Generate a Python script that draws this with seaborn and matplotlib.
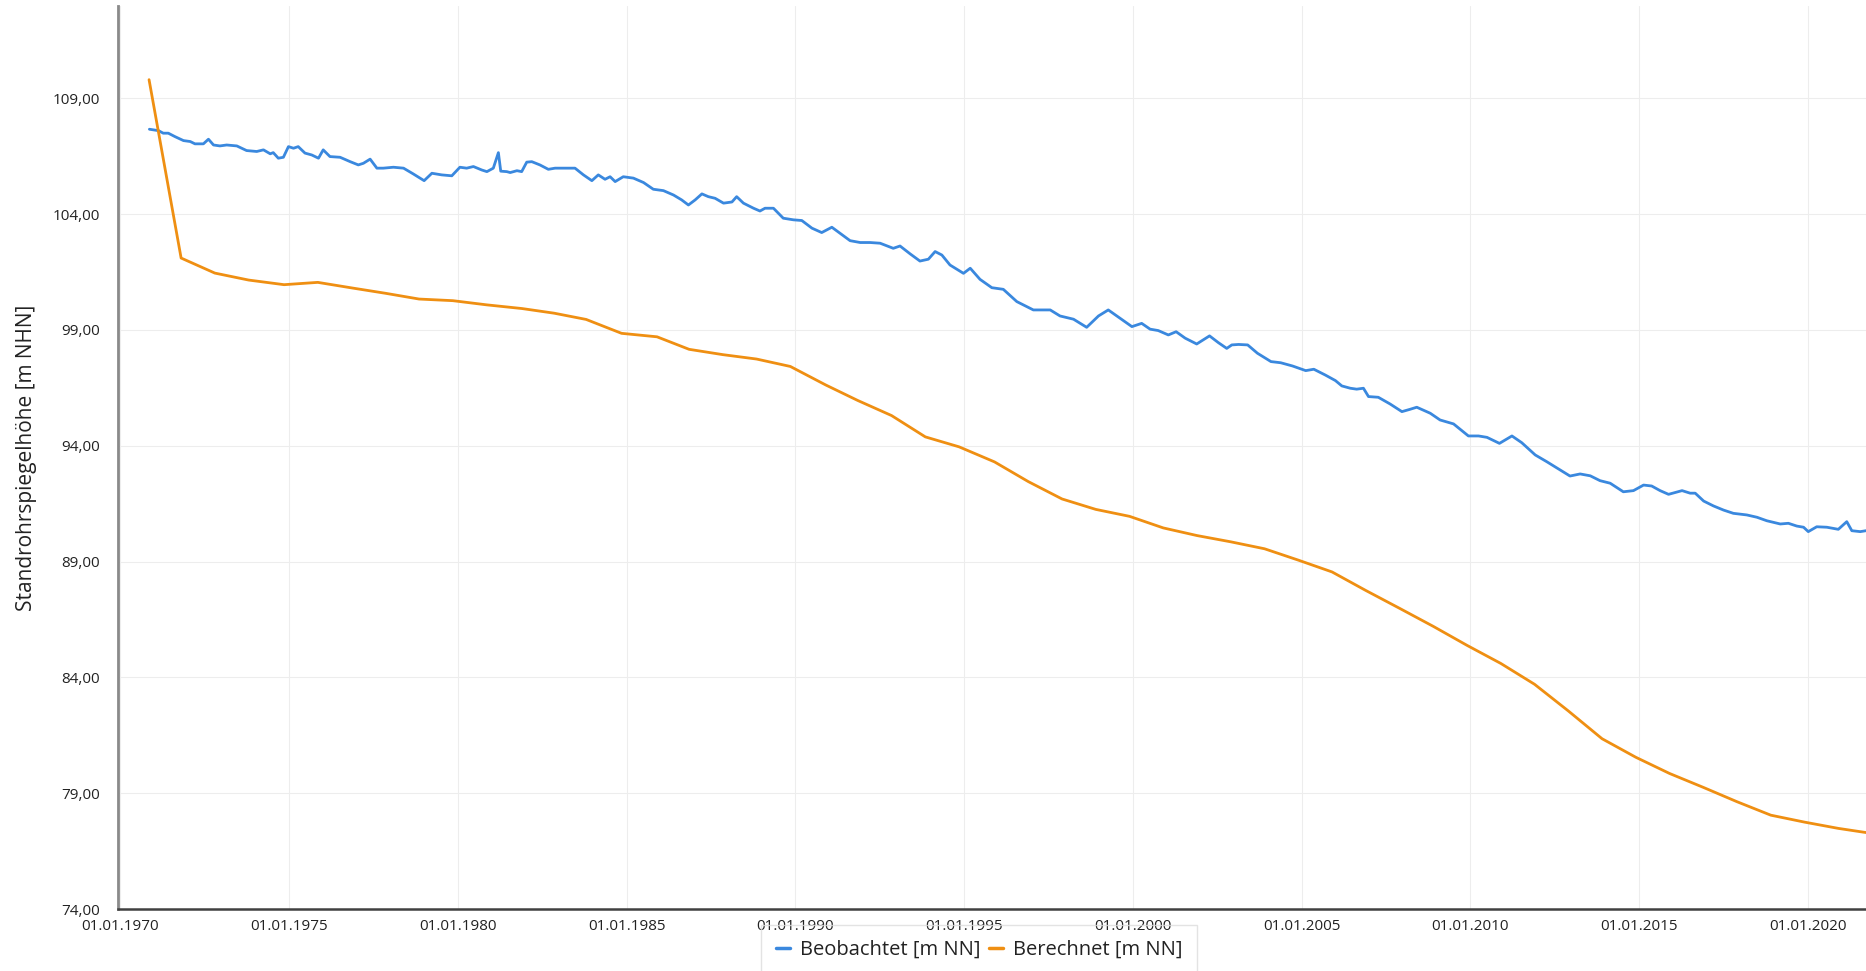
import matplotlib
matplotlib.use("Agg")
import matplotlib.pyplot as plt
import numpy as np
import pandas as pd
import seaborn as sns

# ---------------- data ----------------
obs_year = [1970.86, 1971.13, 1971.27, 1971.42, 1971.62, 1971.87, 1972.07, 1972.21, 1972.46, 1972.61,
            1972.76, 1972.95, 1973.15, 1973.45, 1973.74, 1974.04, 1974.24, 1974.44, 1974.53, 1974.68,
            1974.83, 1974.98, 1975.13, 1975.27, 1975.47, 1975.67, 1975.87, 1976.01, 1976.21, 1976.51,
            1976.81, 1977.05, 1977.20, 1977.40, 1977.60, 1977.79, 1978.09, 1978.39, 1978.68, 1979.00,
            1979.23, 1979.52, 1979.82, 1980.06, 1980.26, 1980.46, 1980.71, 1980.86, 1981.05, 1981.20,
            1981.27, 1981.45, 1981.55, 1981.75, 1981.89, 1982.04, 1982.19, 1982.43, 1982.68, 1982.88,
            1983.13, 1983.47, 1983.72, 1983.97, 1984.16, 1984.36, 1984.51, 1984.66, 1984.90, 1985.20,
            1985.50, 1985.79, 1986.09, 1986.39, 1986.63, 1986.83, 1987.03, 1987.23, 1987.42, 1987.62,
            1987.87, 1988.12, 1988.26, 1988.46, 1988.76, 1988.95, 1989.10, 1989.35, 1989.64, 1989.94,
            1990.19, 1990.49, 1990.78, 1991.08, 1991.32, 1991.62, 1991.92, 1992.21, 1992.51, 1992.90,
            1993.10, 1993.40, 1993.69, 1993.94, 1994.14, 1994.34, 1994.58, 1994.98, 1995.18, 1995.47,
            1995.82, 1996.16, 1996.56, 1997.05, 1997.55, 1997.84, 1998.24, 1998.63, 1998.98, 1999.27,
            1999.62, 1999.97, 2000.26, 2000.51, 2000.75, 2001.05, 2001.28, 2001.55, 2001.89, 2002.27,
            2002.53, 2002.78, 2002.93, 2003.13, 2003.40, 2003.69, 2004.09, 2004.38, 2004.73, 2005.12,
            2005.36, 2005.70, 2006.00, 2006.19, 2006.44, 2006.63, 2006.83, 2006.98, 2007.27, 2007.62,
            2007.97, 2008.21, 2008.41, 2008.81, 2009.10, 2009.50, 2009.94, 2010.24, 2010.49, 2010.86,
            2011.23, 2011.52, 2011.92, 2012.26, 2012.66, 2012.95, 2013.25, 2013.55, 2013.84, 2014.14,
            2014.53, 2014.83, 2015.13, 2015.37, 2015.62, 2015.87, 2016.27, 2016.51, 2016.66, 2016.91,
            2017.20, 2017.50, 2017.79, 2018.19, 2018.49, 2018.78, 2019.18, 2019.42, 2019.67, 2019.87,
            2020.01, 2020.26, 2020.56, 2020.90, 2021.15, 2021.30, 2021.55, 2021.72]
obs_level = [107.66, 107.60, 107.49, 107.49, 107.34, 107.17, 107.13, 107.03, 107.03, 107.23,
             106.98, 106.94, 106.98, 106.94, 106.74, 106.70, 106.77, 106.60, 106.65, 106.41,
             106.45, 106.91, 106.84, 106.91, 106.63, 106.55, 106.41, 106.77, 106.48, 106.45,
             106.26, 106.12, 106.19, 106.37, 105.98, 105.98, 106.02, 105.98, 105.73, 105.44,
             105.76, 105.69, 105.65, 106.02, 105.98, 106.05, 105.90, 105.83, 105.98, 106.65,
             105.85, 105.83, 105.79, 105.87, 105.83, 106.24, 106.26, 106.12, 105.93, 105.98,
             105.98, 105.98, 105.69, 105.44, 105.69, 105.50, 105.61, 105.40, 105.61, 105.55,
             105.36, 105.07, 105.01, 104.82, 104.61, 104.39, 104.61, 104.87, 104.75, 104.68,
             104.47, 104.52, 104.75, 104.47, 104.25, 104.13, 104.25, 104.25, 103.82, 103.75,
             103.72, 103.39, 103.20, 103.43, 103.17, 102.85, 102.77, 102.77, 102.74, 102.52,
             102.62, 102.28, 101.97, 102.05, 102.38, 102.23, 101.80, 101.44, 101.66, 101.18,
             100.82, 100.75, 100.22, 99.86, 99.86, 99.60, 99.46, 99.11, 99.60, 99.86,
             99.50, 99.14, 99.28, 99.03, 98.97, 98.78, 98.92, 98.64, 98.39, 98.74,
             98.45, 98.20, 98.35, 98.37, 98.35, 97.99, 97.63, 97.58, 97.44, 97.24,
             97.30, 97.05, 96.81, 96.58, 96.48, 96.44, 96.48, 96.12, 96.09, 95.80,
             95.47, 95.57, 95.66, 95.40, 95.11, 94.94, 94.42, 94.42, 94.36, 94.10,
             94.42, 94.13, 93.60, 93.31, 92.95, 92.69, 92.78, 92.70, 92.49, 92.38,
             92.01, 92.06, 92.30, 92.26, 92.06, 91.90, 92.06, 91.95, 91.95, 91.61,
             91.40, 91.22, 91.08, 91.01, 90.91, 90.76, 90.62, 90.65, 90.53, 90.48,
             90.29, 90.50, 90.48, 90.39, 90.72, 90.33, 90.29, 90.33]

calc_year = [1970.85, 1971.80, 1972.80, 1973.80, 1974.85, 1975.85, 1976.90, 1977.85, 1978.85, 1979.85,
             1980.85, 1981.90, 1982.85, 1983.80, 1984.85, 1985.90, 1986.85, 1987.85, 1988.85, 1989.85,
             1990.90, 1991.85, 1992.85, 1993.85, 1994.85, 1995.90, 1996.90, 1997.90, 1998.90, 1999.90,
             2000.90, 2001.90, 2002.90, 2003.90, 2004.90, 2005.90, 2006.90, 2007.90, 2008.90, 2009.90,
             2010.90, 2011.90, 2012.90, 2013.90, 2014.90, 2015.90, 2016.90, 2017.90, 2018.90, 2019.90,
             2020.90, 2021.72]
calc_level = [109.80, 102.10, 101.45, 101.15, 100.95, 101.05, 100.80, 100.58, 100.33, 100.26,
              100.08, 99.92, 99.72, 99.45, 98.85, 98.70, 98.16, 97.93, 97.74, 97.42,
              96.62, 95.95, 95.30, 94.38, 93.95, 93.30, 92.45, 91.70, 91.25, 90.95,
              90.45, 90.12, 89.85, 89.55, 89.06, 88.55, 87.75, 86.98, 86.20, 85.38,
              84.60, 83.70, 82.55, 81.35, 80.55, 79.85, 79.25, 78.63, 78.05, 77.75,
              77.48, 77.30]

series_names = ["Beobachtet [m NN]", "Berechnet [m NN]"]
series_colors = ["#3a88de", "#ef8f12"]

x_ticks = [1970, 1975, 1980, 1985, 1990, 1995, 2000, 2005, 2010, 2015, 2020]
x_tick_labels = ["01.01.1970", "01.01.1975", "01.01.1980", "01.01.1985", "01.01.1990",
                 "01.01.1995", "01.01.2000", "01.01.2005", "01.01.2010", "01.01.2015",
                 "01.01.2020"]
y_ticks = [74, 79, 84, 89, 94, 99, 104, 109]
y_tick_labels = ["74,00", "79,00", "84,00", "89,00", "94,00", "99,00", "104,00", "109,00"]
y_label = "Standrohrspiegelhöhe [m NHN]"

# ---------------- frame ----------------
df = pd.concat([
    pd.DataFrame({"year": obs_year, "level": obs_level, "series": series_names[0]}),
    pd.DataFrame({"year": calc_year, "level": calc_level, "series": series_names[1]}),
], ignore_index=True)

sns.set_theme(style="white")
plt.rcParams["font.family"] = ["Open Sans", "DejaVu Sans"]

W, H = 1866, 971
fig = plt.figure(figsize=(W / 100, H / 100), dpi=100)
ax = fig.add_axes([118 / W, (H - 909) / H, 1 - 118 / W, (909 - 6) / H])

sns.lineplot(data=df, x="year", y="level", hue="series", hue_order=series_names,
             palette=dict(zip(series_names, series_colors)), estimator=None,
             linewidth=2.0, ax=ax)

ax.set_xlim(1969.93, 2021.72)
ax.set_ylim(74, 112.98)
ax.set_xticks(x_ticks)
ax.set_xticklabels(x_tick_labels)
ax.set_yticks(y_ticks)
ax.set_yticklabels(y_tick_labels)
ax.tick_params(axis="both", length=0, labelsize=11, colors="#222222")
ax.tick_params(axis="y", pad=13)
ax.tick_params(axis="x", pad=7.5)

ax.grid(True, color="#ededed", linewidth=0.8)
ax.set_axisbelow(True)
for s in ("top", "right"):
    ax.spines[s].set_visible(False)
ax.spines["left"].set_color("#8a8a8a")
ax.spines["left"].set_linewidth(2.0)
ax.spines["bottom"].set_color("#404040")
ax.spines["bottom"].set_linewidth(1.8)

ax.set_xlabel("")
ax.set_ylabel(y_label, fontsize=15, color="#222222")
ax.yaxis.set_label_coords(-0.0465, 0.5)

handles, labels = ax.get_legend_handles_labels()
leg = ax.legend(handles, labels, loc="upper center",
                bbox_to_anchor=(979 / W, 1 - 925 / H), bbox_transform=fig.transFigure,
                ncol=2, frameon=True, fancybox=False, fontsize=14.5,
                handlelength=0.7, handletextpad=0.5, columnspacing=0.4,
                borderpad=0.75, borderaxespad=0)
leg.get_frame().set_edgecolor("#dddddd")
leg.get_frame().set_facecolor("none")
leg.get_frame().set_linewidth(1.0)
for line in leg.get_lines():
    line.set_linewidth(2.5)
for t in leg.get_texts():
    t.set_color("#222222")

fig.savefig("out.png", dpi=100)
